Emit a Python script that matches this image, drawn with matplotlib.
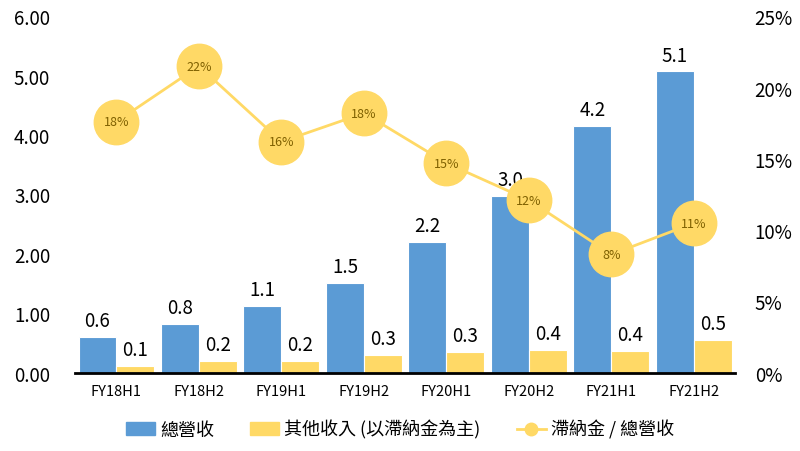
import matplotlib
matplotlib.use("Agg")
import matplotlib.pyplot as plt
import numpy as np
from matplotlib.lines import Line2D
from matplotlib.patches import Patch

plt.rcParams['font.family'] = ['Noto Sans CJK TC', 'DejaVu Sans']

periods = ["FY18H1", "FY18H2", "FY19H1", "FY19H2", "FY20H1", "FY20H2", "FY21H1", "FY21H2"]
revenue = [0.61, 0.82, 1.13, 1.51, 2.20, 2.98, 4.16, 5.07]
revenue_labels = ["0.6", "0.8", "1.1", "1.5", "2.2", "3.0", "4.2", "5.1"]
other_income = [0.12, 0.20, 0.20, 0.30, 0.35, 0.39, 0.37, 0.55]
other_labels = ["0.1", "0.2", "0.2", "0.3", "0.3", "0.4", "0.4", "0.5"]
late_fee_ratio = [17.6, 21.5, 16.2, 18.2, 14.7, 12.1, 8.3, 10.5]
ratio_labels = ["18%", "22%", "16%", "18%", "15%", "12%", "8%", "11%"]

blue = "#5B9BD5"
gold = "#FFD966"

fig = plt.figure(figsize=(8, 4.52), dpi=100)
ax = fig.add_axes([0.094, 0.173, 0.825, 0.789])
x = np.arange(len(periods))
w = 0.46

ax.bar(x - w / 2, revenue, w, color=blue, edgecolor="white", linewidth=0.8, zorder=2)
ax.bar(x + w / 2, other_income, w, color=gold, edgecolor="white", linewidth=0.8, zorder=2)
for xi, v, t in zip(x, revenue, revenue_labels):
    ax.text(xi - w / 2, v + 0.1, t, ha="center", va="bottom", fontsize=13.5)
for xi, v, t in zip(x, other_income, other_labels):
    ax.text(xi + w / 2, v + 0.1, t, ha="center", va="bottom", fontsize=13.5)

ax.set_xlim(-0.5, len(periods) - 0.5)
ax.set_ylim(0, 6)
ax.set_yticks(np.arange(0, 7, 1))
ax.set_yticklabels([f"{v:.2f}" for v in range(7)], fontsize=13.5)
ax.set_xticks(x)
ax.set_xticklabels(periods, fontsize=10.5)
ax.tick_params(length=0, pad=8)
ax.tick_params(axis="y", pad=18)
for s in ["top", "right", "left"]:
    ax.spines[s].set_visible(False)
ax.spines["bottom"].set_linewidth(2)
ax.spines["bottom"].set_zorder(5)

ax2 = ax.twinx()
ax2.plot(x, late_fee_ratio, color=gold, lw=2, marker="o", ms=32,
         markerfacecolor=gold, markeredgecolor=gold, zorder=3)
for xi, v, t in zip(x, late_fee_ratio, ratio_labels):
    ax2.text(xi, v, t, ha="center", va="center", fontsize=9, color="#7F6000", zorder=4)
ax2.set_ylim(0, 25)
ax2.set_yticks(np.arange(0, 30, 5))
ax2.set_yticklabels([f"{v}%" for v in range(0, 30, 5)], fontsize=13.5)
ax2.tick_params(length=0, pad=14)
for s in ax2.spines.values():
    s.set_visible(False)

handles = [Patch(color=blue), Patch(color=gold),
           Line2D([0], [0], color=gold, lw=2, marker="o", ms=9)]
labels = ["總營收", "其他收入 (以滯納金為主)", "滯納金 / 總營收"]
fig.legend(handles, labels, loc="center", bbox_to_anchor=(0.5, 0.048), ncol=3,
           frameon=False, fontsize=13, handlelength=1.6, handletextpad=0.3,
           columnspacing=2.0)

fig.savefig("out.png", dpi=100)
